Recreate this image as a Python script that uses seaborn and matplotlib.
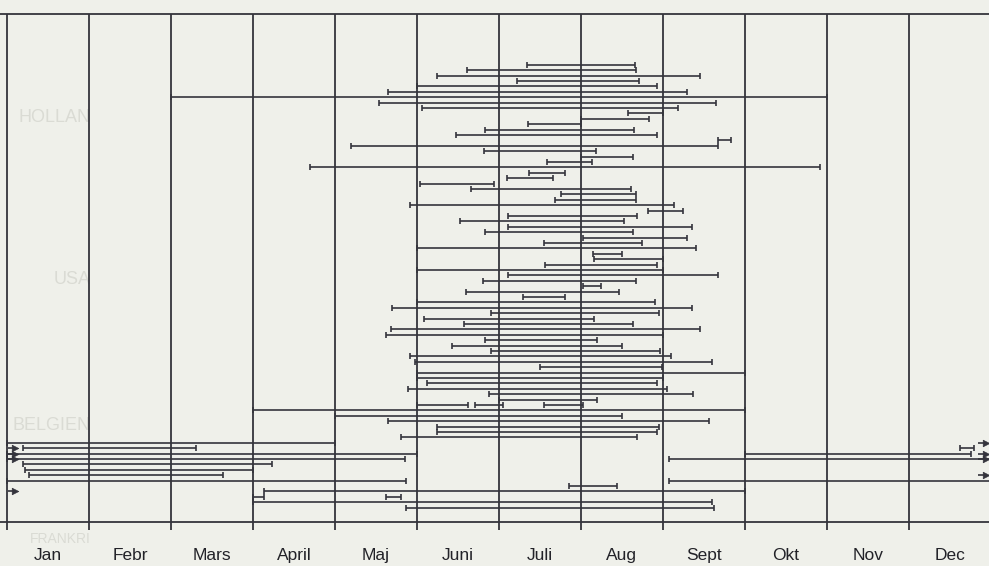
# -*- coding: utf-8 -*-

import matplotlib
matplotlib.use("Agg")
import matplotlib.pyplot as plt
import seaborn as sns
import pandas as pd

months = ["Jan", "Febr", "Mars", "April", "Maj", "Juni",
          "Juli", "Aug", "Sept", "Okt", "Nov", "Dec"]

# one entry per drawn period: lane (row from the top), start and end
# in months counted from 1 January
lane = [0, 1, 2, 3, 4, 5, 6, 7, 8, 9,
        10, 11, 12, 13, 14, 15, 16, 17, 18, 19,
        20, 21, 22, 23, 24, 25, 26, 27, 28, 29,
        30, 31, 32, 33, 34, 35, 36, 37, 38, 39,
        40, 41, 42, 43, 44, 45, 46, 47, 48, 49,
        50, 51, 52, 53, 54, 55, 56, 57, 58, 59,
        60, 61, 62, 63, 63, 63, 64, 65, 66, 67, 68, 69,
        70, 71, 71, 72, 72, 73, 73, 74, 75, 76,
        77, 77, 78, 79, 80, 80, 81, 82]
start = [6.34, 5.61, 5.24, 6.22, 5.00, 4.64, 2.00, 4.54, 5.06, 7.58,
         7.00, 6.35, 5.83, 5.47, 8.67, 4.19, 5.82, 7.00, 6.59, 3.69,
         6.37, 6.10, 5.04, 5.66, 6.76, 6.68, 4.91, 7.82, 6.11, 5.52,
         6.11, 5.83, 7.02, 6.55, 5.00, 7.15, 7.16, 6.56, 5.00, 6.11,
         5.81, 7.02, 5.60, 6.29, 5.00, 4.69, 5.90, 5.09, 5.57, 4.68,
         4.62, 5.83, 5.43, 5.90, 4.91, 4.98, 6.50, 5.00, 5.00, 5.12,
         4.89, 5.88, 6.00, 5.00, 5.71, 6.55, 3.00, 4.00, 4.65, 5.24, 5.24, 4.81,
         0.00, 0.19, 11.63, 0.00, 9.00, 0.00, 8.08, 0.19, 0.22, 0.27,
         0.00, 8.08, 6.86, 3.13, 3.00, 4.62, 3.00, 4.86]
end = [7.66, 7.67, 8.45, 7.71, 7.93, 8.29, 10.00, 8.65, 8.18, 8.00,
       7.83, 7.00, 7.65, 7.93, 8.83, 8.67, 7.19, 7.64, 7.14, 9.92,
       6.81, 6.66, 5.94, 7.61, 7.67, 7.67, 8.14, 8.24, 7.69, 7.52,
       8.36, 7.64, 8.30, 7.75, 8.41, 7.50, 8.00, 7.93, 8.00, 8.67,
       7.67, 7.24, 7.47, 6.81, 7.91, 8.35, 7.95, 7.16, 7.63, 8.45,
       8.00, 7.20, 7.50, 7.97, 8.10, 8.60, 7.99, 9.00, 8.00, 7.93,
       8.05, 8.37, 7.20, 5.62, 6.05, 7.03, 9.00, 7.50, 8.56, 7.95, 7.93, 7.68,
       4.00, 2.30, 11.80, 5.00, 11.76, 4.85, 12.20, 3.23, 3.00, 2.63,
       4.86, 12.20, 7.44, 9.00, 3.13, 4.80, 8.60, 8.62]

arrow_in = [71, 72, 73, 79]    # lanes carried over from the previous year
arrow_out = [70, 72, 73, 76]   # lanes running on into the next year

# faint print-through from the facing page
ghost_text = ["HOLLAN", "USA", "BELGIEN", "FRANKRI"]
ghost_lane = [9.8, 39.8, 66.7, 87.8]

periods = pd.DataFrame({"lane": lane, "start": start, "end": end})
caps = pd.concat([periods[["lane", "start"]].rename(columns={"start": "month"}),
                  periods[["lane", "end"]].rename(columns={"end": "month"})])
caps = caps[caps["month"] < 12]

paper = "#eff0ea"
ink = "#34343c"

sns.set_theme(style="white", rc={"figure.facecolor": paper,
                                 "axes.facecolor": paper})
plt.rcParams["font.family"] = ["Liberation Sans", "DejaVu Sans"]

fig = plt.figure(figsize=(9.89, 5.66), dpi=100)
ax = fig.add_axes([0, 0, 1, 1])
ax.set_xlim(-0.089, 11.98)
ax.set_ylim(92.8, -12.0)
ax.set_axis_off()

top, base, tick = -9.4, 84.7, 86.1

for name, y, fs in zip(ghost_text, ghost_lane, [13, 13, 13, 10]):
    ax.text(1.02, y, name, ha="right", va="center", fontsize=fs,
            color="#dadbd4", zorder=0)

# month grid
ax.vlines(range(12), top, tick, color=ink, lw=1.3, zorder=1)
ax.hlines([top, base], -0.089, 12, color=ink, lw=1.3, zorder=1)

# periods with end caps
ax.hlines(periods["lane"], periods["start"], periods["end"],
          color=ink, lw=1.2, zorder=2)
ax.plot(caps["month"], caps["lane"], ls="none", marker="|", ms=5,
        mew=1.2, color=ink, zorder=3)

# continuation arrows
arrows = pd.DataFrame({"lane": arrow_in + arrow_out,
                       "month": [0.10] * len(arrow_in) + [11.94] * len(arrow_out)})
ax.hlines(arrows["lane"], arrows["month"] - 0.09, arrows["month"],
          color=ink, lw=1.2, zorder=3)
sns.scatterplot(data=arrows, x="month", y="lane", marker=">", s=22,
                color=ink, edgecolor=ink, linewidth=0.5, ax=ax,
                legend=False, zorder=4)

for i, m in enumerate(months):
    ax.text(i + 0.5, 90.9, m, ha="center", va="center", fontsize=12.5,
            color="#222228")

fig.savefig("out.png", dpi=100, facecolor=paper)
